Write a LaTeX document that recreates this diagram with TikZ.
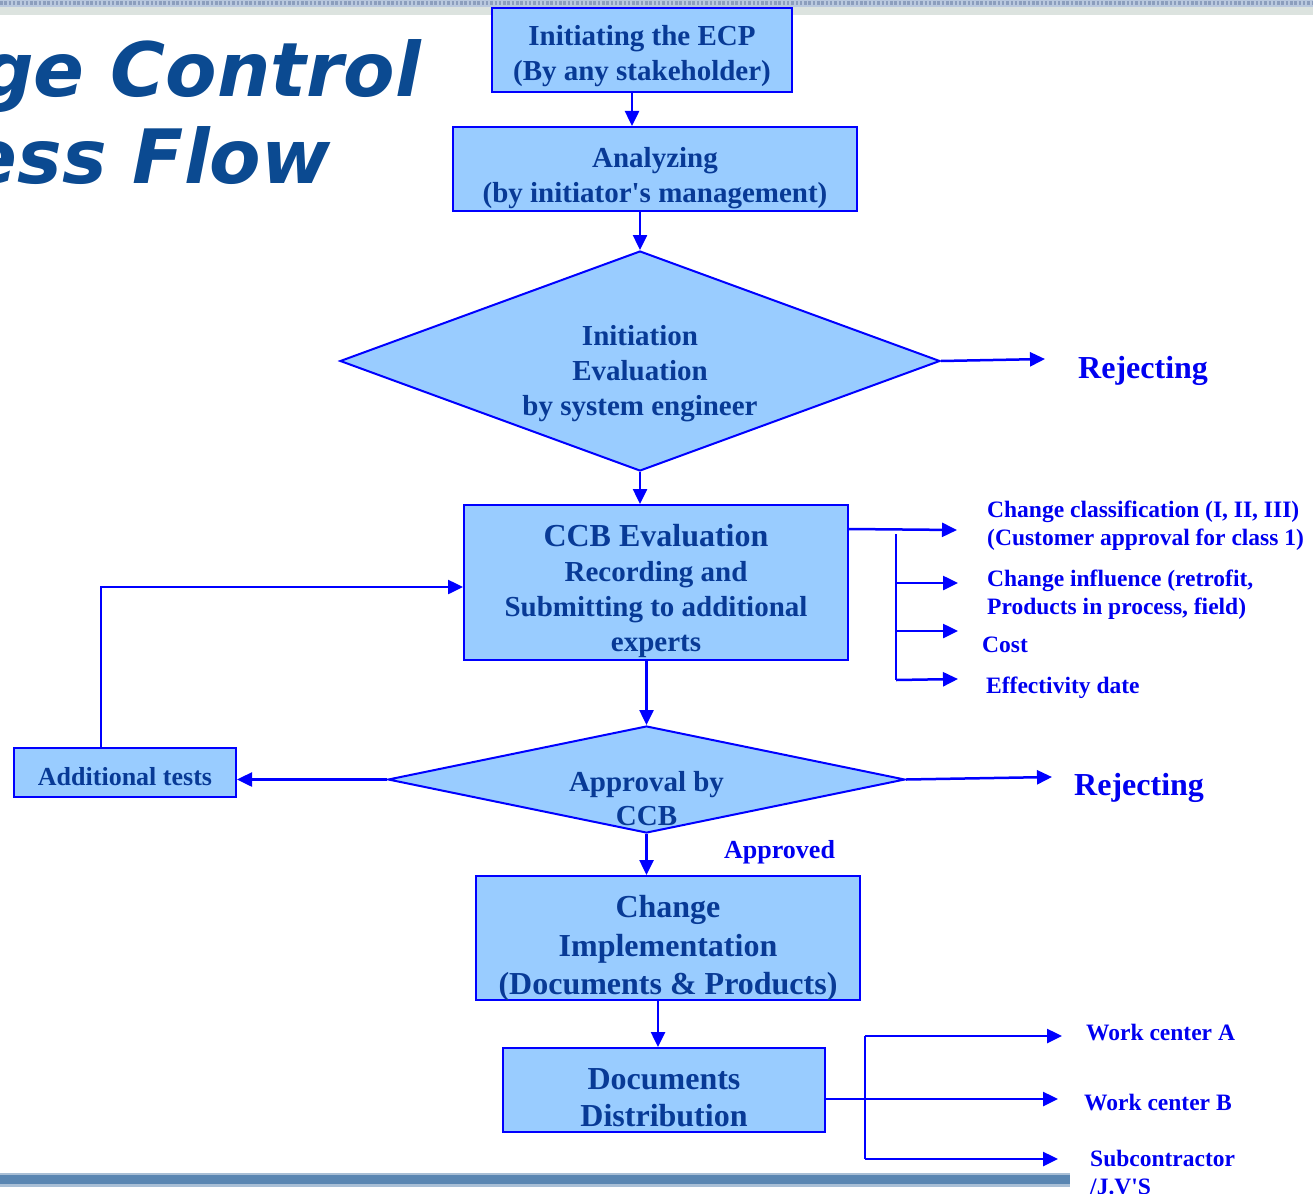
\documentclass[tikz,border=0pt]{standalone}
\usepackage{fontspec}
\setmainfont{Liberation Serif}
\newfontfamily\titlefont{DejaVu Sans}
\usetikzlibrary{arrows.meta,shapes.geometric,calc}

\definecolor{boxfill}{HTML}{99CCFF}
\definecolor{edgeblue}{HTML}{0000FF}
\definecolor{navy}{HTML}{083A96}
\definecolor{labelblue}{HTML}{0000F0}
\definecolor{titleblue}{HTML}{0B4A91}
\definecolor{bandgray}{HTML}{DCE3DF}
\definecolor{banddot}{HTML}{8C9EBD}
\definecolor{banddotbg}{HTML}{B9C8DE}
\definecolor{footdark}{HTML}{5A86B2}
\definecolor{footlight}{HTML}{A9BFD6}

\begin{document}
\begin{tikzpicture}[x=1pt,y=-1pt,
  procbox/.style={draw=edgeblue, line width=2pt, fill=boxfill, inner sep=0pt},
  decision/.style={diamond, draw=edgeblue, line width=2pt, fill=boxfill, inner sep=0pt},
  boxtext/.style={inner sep=0pt, align=center, text=navy,
    font=\bfseries\fontsize{29}{35}\selectfont},
  flow/.style={draw=edgeblue, line width=2.5pt, -{Triangle[length=15pt,width=14pt]}},
  bus/.style={draw=edgeblue, line width=2.5pt},
  sidelabel/.style={anchor=west, inner sep=0pt, align=left, text=labelblue,
    font=\bfseries\fontsize{23.5}{28}\selectfont},
  rejlabel/.style={anchor=west, inner sep=0pt, text=labelblue,
    font=\bfseries\fontsize{32}{38}\selectfont},
  titletext/.style={anchor=base east, inner sep=0pt, text=titleblue,
    font=\titlefont\bfseries\itshape\fontsize{75}{75}\selectfont}]

\useasboundingbox (0,0) rectangle (1313,1193);
\clip (0,0) rectangle (1313,1193);

% header band
\fill[banddotbg] (0,0) rectangle (1313,7);
\draw[banddot, line width=4pt, dash pattern=on 2.5pt off 1.8pt] (0,3.5) -- (1313,3.5);
\fill[bandgray] (0,7) rectangle (1313,15);

% footer band
\fill[footlight] (0,1172.5) rectangle (1070,1186.5);
\fill[footdark] (0,1175) rectangle (1070,1184);

% title
\node[titletext] (title1) at (421,97) {Change Control};
\node[titletext] (title2) at (331,183) {Process Flow};

% process steps (shapes)
\node[procbox, minimum width=300pt, minimum height=84pt] (init) at (642,50) {};
\node[procbox, minimum width=404pt, minimum height=84pt] (anal) at (655,169) {};
\node[decision, minimum width=600pt, minimum height=220pt] (eval) at (640,361) {};
\node[procbox, minimum width=384pt, minimum height=155pt] (ccb) at (656,582.5) {};
\node[decision, minimum width=517pt, minimum height=107pt] (appr) at (646.5,779.5) {};
\node[procbox, minimum width=222pt, minimum height=49pt] (tests) at (125,772.5) {};
\node[procbox, minimum width=384pt, minimum height=124pt] (impl) at (668,938) {};
\node[procbox, minimum width=322pt, minimum height=84pt] (dist) at (664,1090) {};

% process steps (texts)
\node[boxtext] (init-t) at ([yshift=-6.5pt]init.center)
  {Initiating the ECP\\(By any stakeholder)};
\node[boxtext] (anal-t) at ([yshift=-9.5pt]anal.center)
  {Analyzing\\(by initiator\textquotesingle s management)};
\node[boxtext] (eval-t) at ([yshift=-13pt]eval.center)
  {Initiation\\Evaluation\\by system engineer};
\node[boxtext] (ccb-t) at ([yshift=-8.5pt]ccb.center)
  {{\fontsize{32}{37}\selectfont CCB Evaluation}\\Recording and\\Submitting to additional\\experts};
\node[boxtext, font=\bfseries\fontsize{29}{34}\selectfont] (appr-t) at (646.5,799)
  {Approval by\\CCB};
\node[boxtext, font=\bfseries\fontsize{26}{30}\selectfont] (tests-t)
  at ([yshift=-4pt]tests.center) {Additional tests};
\node[boxtext, font=\bfseries\fontsize{32}{38.5}\selectfont] (impl-t)
  at ([yshift=-10.5pt]impl.center) {Change\\Implementation\\(Documents \& Products)};
\node[boxtext, font=\bfseries\fontsize{32}{37}\selectfont] (dist-t)
  at ([yshift=-8pt]dist.center) {Documents\\Distribution};

% side labels
\node[rejlabel] (rej1) at (1078,371) {Rejecting};
\node[rejlabel] (rej2) at (1074,788) {Rejecting};
\node[sidelabel] (cls) at (987,526) {Change classification (I, II, III)\\(Customer approval for class 1)};
\node[sidelabel] (infl) at (987,595) {Change influence (retrofit,\\Products in process, field)};
\node[sidelabel] (cost) at (982,645) {Cost};
\node[sidelabel] (effd) at (986,688) {Effectivity date};
\node[sidelabel, font=\bfseries\fontsize{26}{30}\selectfont] (apprd) at (724,852) {Approved};
\node[sidelabel] (wca) at (1086,1033) {Work center A};
\node[sidelabel] (wcb) at (1084,1103) {Work center B};
\node[sidelabel] (subc) at (1090,1173) {Subcontractor\\/J.V\textquotesingle S};

% free ends of branch arrows
\coordinate (rej1tip) at (1045,359);
\coordinate (rej2tip) at (1052,777);
\coordinate (clstip) at (957,530);
\coordinate (ccbbusT) at (896,534);
\coordinate (ccbbusB) at (896,680);
\coordinate (infltip) at (958,583);
\coordinate (costtip) at (958,631);
\coordinate (efftip) at (958,679);
\coordinate (wcbtip) at (1058,1099);
\coordinate (distbusT) at (865,1036);
\coordinate (distbusB) at (865,1159);
\coordinate (wcatip) at (1062,1036);
\coordinate (subctip) at (1058,1159);

% main flow
\draw[flow] ([xshift=-10pt]init.south) -- ([xshift=-10pt]init.south |- anal.north);
\draw[flow] (eval.north |- anal.south) -- (eval.north);
\draw[flow] (eval.south) -- (eval.south |- ccb.north);
\draw[flow] (appr.north |- ccb.south) -- (appr.north);
\draw[flow] (appr.south) -- (appr.south |- impl.north);
\draw[flow] ([xshift=-6pt]dist.north |- impl.south) -- ([xshift=-6pt]dist.north);

% rejections
\draw[flow] (eval.east) -- (rej1tip);
\draw[flow] (appr.east) -- (rej2tip);

% additional tests loop
\draw[flow] (appr.west) -- (appr.west -| tests.east);
\draw[flow] ([xshift=-24pt]tests.north) |- ([yshift=-4.5pt]ccb.west);

% CCB evaluation topics
\draw[flow] ([yshift=-25pt]ccb.north east) -- (clstip);
\draw[bus] (ccbbusT) -- (ccbbusB);
\draw[flow] (ccbbusT |- infltip) -- (infltip);
\draw[flow] (ccbbusT |- costtip) -- (costtip);
\draw[flow] (ccbbusB) -- (efftip);

% distribution
\draw[flow] ([yshift=-9pt]dist.east) -- (wcbtip);
\draw[bus] (distbusT) -- (distbusB);
\draw[flow] (distbusT) -- (wcatip);
\draw[flow] (distbusB) -- (subctip);
\end{tikzpicture}
\end{document}
